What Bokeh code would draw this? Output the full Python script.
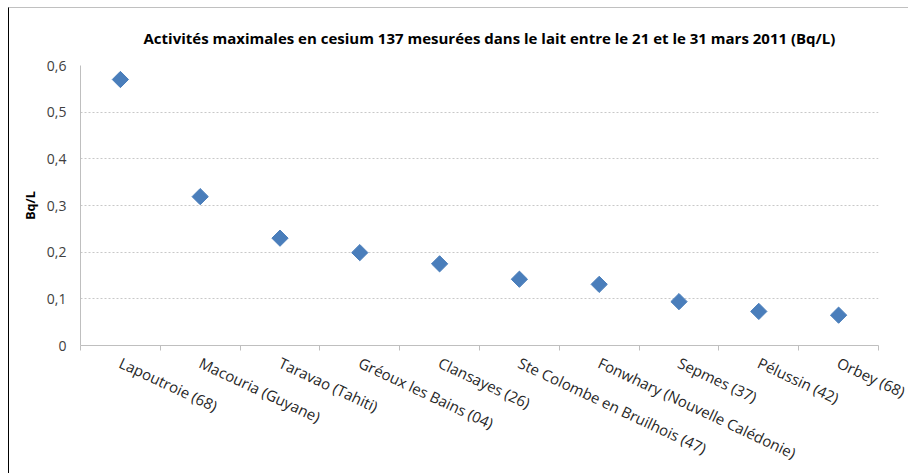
import math
from bokeh.plotting import figure
from bokeh.models import Range1d, FixedTicker, CustomJSTickFormatter, ColumnDataSource
from bokeh.embed import file_html
from bokeh.resources import INLINE

categories = [
    "Lapoutroie (68)",
    "Macouria (Guyane)",
    "Taravao (Tahiti)",
    "Gréoux les Bains (04)",
    "Clansayes (26)",
    "Ste Colombe en Bruilhois (47)",
    "Fonwhary (Nouvelle Calédonie)",
    "Sepmes (37)",
    "Pélussin (42)",
    "Orbey (68)",
]
values = [0.570, 0.319, 0.230, 0.199, 0.175, 0.142, 0.131, 0.094, 0.073, 0.065]
y_ticks = [0, 0.1, 0.2, 0.3, 0.4, 0.5, 0.6]

positions = [i + 0.5 for i in range(len(categories))]
src = ColumnDataSource(dict(x=positions, y=values, name=categories))

FONT = "Open Sans"

p = figure(
    width=900, height=466,
    output_backend="svg", toolbar_location=None,
    x_range=Range1d(0, len(categories)), y_range=Range1d(0, 0.6),
    min_border_left=71, min_border_right=31, min_border_top=57, min_border_bottom=129,
    background_fill_color="white", border_fill_color="white",
)
p.outline_line_color = None
p.styles = {
    "margin-left": "8px",
    "margin-top": "7px",
    "border-left": "1px solid #000000",
    "border-top": "1px solid #c0c0c0",
}

p.title.text = "Activités maximales en cesium 137 mesurées dans le lait entre le 21 et le 31 mars 2011 (Bq/L)"
p.title.align = "left"
p.title.offset = 63
p.title.text_font = FONT
p.title.text_font_size = "15px"
p.title.text_font_style = "bold"
p.title.text_color = "#000000"
p.title.standoff = 35

p.scatter("x", "y", source=src, marker="square", size=11.5, angle=math.pi / 4,
          fill_color="#4a7ebb", line_color="#4a7ebb", line_width=1)

# x axis
xa = p.xaxis[0]
xa.ticker = FixedTicker(ticks=positions, minor_ticks=list(range(len(categories) + 1)))
xa.major_label_overrides = {pos: c for pos, c in zip(positions, categories)}
xa.major_label_orientation = -0.44
xa.major_label_standoff = 10
xa.major_label_text_font = FONT
xa.major_label_text_font_size = "15px"
xa.major_label_text_color = "#262626"
xa.major_tick_line_color = None
xa.minor_tick_line_color = "#bfbfbf"
xa.minor_tick_out = 5
xa.minor_tick_in = 0
xa.axis_line_color = "#bfbfbf"

# y axis
ya = p.yaxis[0]
ya.ticker = FixedTicker(ticks=y_ticks)
ya.formatter = CustomJSTickFormatter(code="return tick < 1e-9 ? '0' : tick.toFixed(1).replace('.', ',');")
ya.major_label_text_font = FONT
ya.major_label_text_font_size = "14px"
ya.major_label_text_color = "#404040"
ya.major_tick_line_color = None
ya.minor_tick_line_color = None
ya.major_label_standoff = 8
ya.axis_line_color = "#bfbfbf"
ya.axis_label = "Bq/L"
ya.axis_label_text_font = FONT
ya.axis_label_text_font_size = "12.5px"
ya.axis_label_text_font_style = "bold"
ya.axis_label_text_color = "#000000"
ya.axis_label_standoff = 5

p.xgrid.grid_line_color = None
p.ygrid.grid_line_color = "#c8c8c8"
p.ygrid.grid_line_dash = "2 2"
p.ygrid.ticker = FixedTicker(ticks=y_ticks[1:])

open("out.html", "w").write(file_html(p, INLINE))
